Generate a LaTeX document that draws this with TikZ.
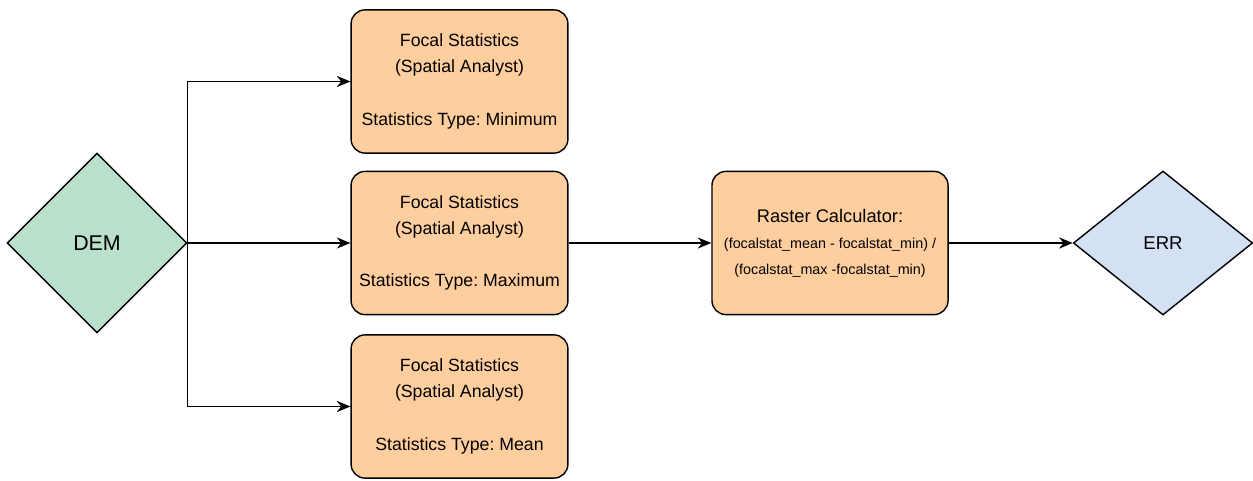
\documentclass[tikz,border=0pt]{standalone}
\usepackage{fontspec}
\setmainfont{Liberation Sans}
\usetikzlibrary{shapes.geometric,arrows.meta}

\definecolor{demgreen}{HTML}{B9E0CB}
\definecolor{errblue}{HTML}{D4E1F5}
\definecolor{toolorange}{HTML}{FFCE9F}

\begin{document}
\frenchspacing
\begin{tikzpicture}[x=0.025cm,y=0.025cm,
  line width=1pt,
  >={Stealth[length=0.34cm,width=0.28cm]},
  datanode/.style={diamond,draw,inner sep=0pt,minimum width=4.5cm,minimum height=4.5cm},
  toolbox/.style={draw,fill=toolorange,rounded corners=0.35cm,align=center,
    minimum width=5.42cm,minimum height=3.58cm,inner sep=0pt,
    font=\fontsize{12.6}{18.5}\selectfont}]
\useasboundingbox (0,0) rectangle (1253,480);

\node[datanode,fill=demgreen,font=\fontsize{15.2}{17}\selectfont] (dem) at (97,237) {DEM};

\node[toolbox] (fsmin) at (459.5,398.5) {Focal Statistics\\(Spatial Analyst)\\[19pt]Statistics Type: Minimum};
\node[toolbox] (fsmax) at (459.5,237) {Focal Statistics\\(Spatial Analyst)\\[19pt]Statistics Type: Maximum};
\node[toolbox] (fsmean) at (459.5,73.5) {Focal Statistics\\(Spatial Analyst)\\[19pt]Statistics Type: Mean};

\node[toolbox,minimum width=5.9cm,font=\fontsize{10.2}{18}\selectfont] (calc) at (830,237)
  {{\fontsize{13}{18}\selectfont Raster Calculator:}\\[1pt](focalstat\_mean - focalstat\_min) /\\(focalstat\_max -focalstat\_min)};

\node[datanode,fill=errblue,minimum width=4.48cm,minimum height=3.6cm,font=\fontsize{13.2}{15}\selectfont] (err) at (1163,237) {ERR};

\draw[->] (dem.east) |- (fsmin.west);
\draw[->] (dem.east) -- (fsmax.west);
\draw[->] (dem.east) |- (fsmean.west);
\draw[->] (fsmax.east) -- (calc.west);
\draw[->] (calc.east) -- (err.west);
\end{tikzpicture}
\end{document}
